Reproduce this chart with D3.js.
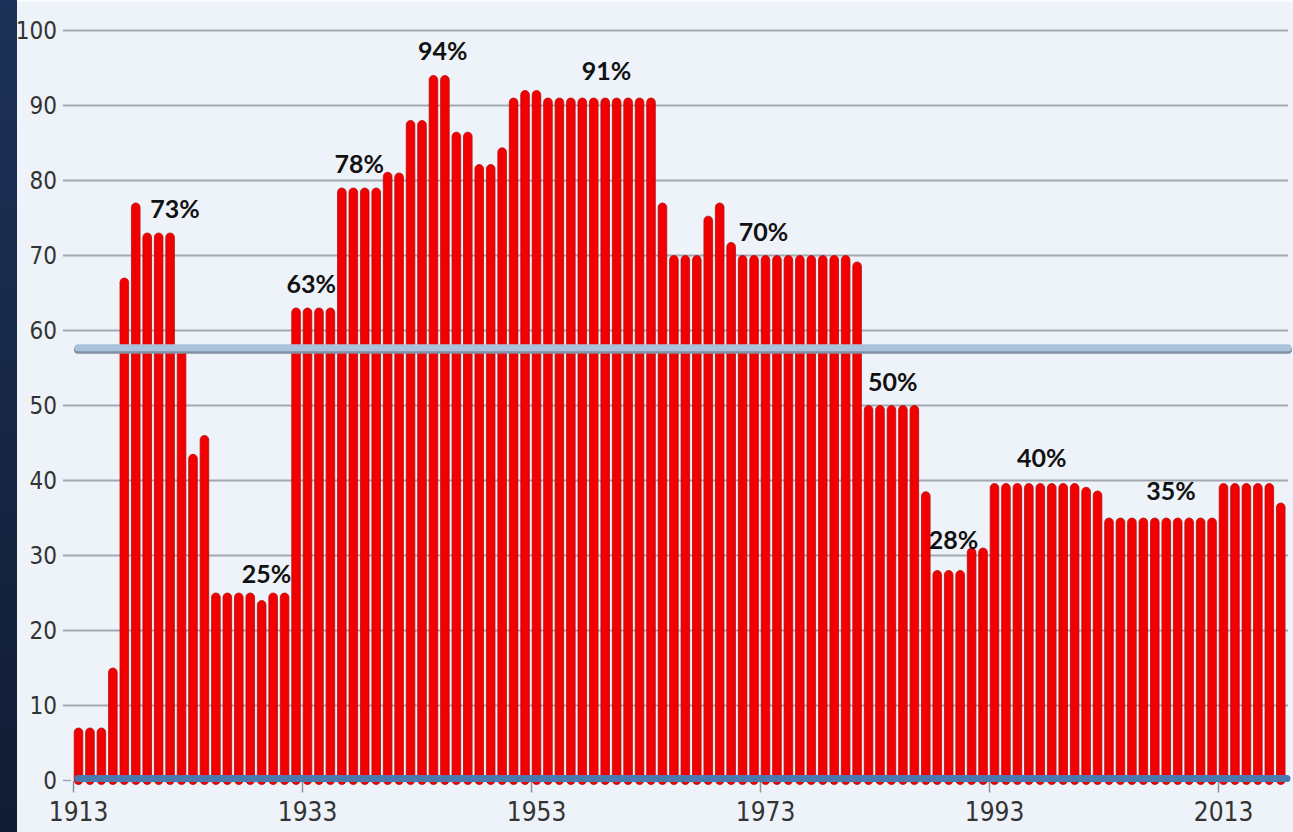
<!DOCTYPE html>
<html>
<head>
<meta charset="utf-8">
<script src="https://cdn.jsdelivr.net/npm/d3@7"></script>
<style>
  html, body { margin: 0; padding: 0; background: #15223d; }
  svg { display: block; }
</style>
</head>
<body>
<div id="chart"></div>
<script>
// top marginal income tax rate, one value per year 1913..2018
const years = d3.range(1913, 2019)
const rates = [
  7, 7, 7, 15, 67, 77, 73, 73, 73, 58, 43.5, 46,
  25, 25, 25, 25, 24, 25, 25,
  63, 63, 63, 63,
  79, 79, 79, 79, 81.1, 81, 88, 88, 94, 94, 86.45, 86.45, 82.13, 82.13, 84.36, 91, 92, 92,
  91, 91, 91, 91, 91, 91, 91, 91, 91, 91,
  77, 70, 70, 70, 75.25, 77, 71.75,
  70, 70, 70, 70, 70, 70, 70, 70, 70, 70, 69.13,
  50, 50, 50, 50, 50, 38.5, 28, 28, 28, 31, 31,
  39.6, 39.6, 39.6, 39.6, 39.6, 39.6, 39.6, 39.6, 39.1, 38.6,
  35, 35, 35, 35, 35, 35, 35, 35, 35, 35,
  39.6, 39.6, 39.6, 39.6, 39.6, 37
]
const yTicks = [0, 10, 20, 30, 40, 50, 60, 70, 80, 90, 100]
const xTicks = [1913, 1933, 1953, 1973, 1993, 2013]
const averageRate = 57.7

// callouts: where the text sits, in year / percent units
const noteYears = [1921.9, 1929.9, 1933.8, 1938.0, 1945.3, 1959.6, 1973.3, 1984.6, 1989.9, 1997.6, 2008.9]
const noteLevels = [75.0, 26.3, 65.0, 81.0, 96.1, 93.4, 71.9, 52.0, 30.9, 41.8, 37.4]
const noteTexts = ['73%', '25%', '63%', '78%', '94%', '91%', '70%', '50%', '28%', '40%', '35%']

const width = 1293
const height = 832

const x = d3.scaleLinear().domain([1913, 2013]).range([73, 1218])
const y = d3.scaleLinear().domain([0, 100]).range([780.5, 30.5])

const svg = d3.select('#chart').append('svg')
  .attr('width', width)
  .attr('height', height)

const defs = svg.append('defs')
const side = defs.append('linearGradient').attr('id', 'side')
  .attr('x1', 0).attr('y1', 0).attr('x2', 0).attr('y2', 1)
side.append('stop').attr('offset', '0%').attr('stop-color', '#1d3158')
side.append('stop').attr('offset', '100%').attr('stop-color', '#111c33')

svg.append('rect').attr('width', 17).attr('height', height).attr('fill', 'url(#side)')
svg.append('rect').attr('x', 17).attr('width', width - 17).attr('height', height).attr('fill', '#eef3fa')
svg.append('rect').attr('x', 17).attr('width', width - 17).attr('height', 2).attr('fill', '#f8fbff')

// grid
svg.append('g')
  .selectAll('line')
  .data(yTicks.filter(d => d > 0))
  .join('line')
  .attr('x1', 63).attr('x2', 1288)
  .attr('y1', d => y(d)).attr('y2', d => y(d))
  .attr('stroke', '#a3a8b0')
  .attr('stroke-width', 2)

// y axis labels
const labelFont = '"Liberation Sans Narrow", "DejaVu Sans Condensed", sans-serif'
const yAxis = svg.append('g')
  .attr('transform', 'translate(64,0)')
  .call(d3.axisLeft(y).tickValues(yTicks).tickSize(0).tickPadding(7))
yAxis.select('.domain').remove()
yAxis.selectAll('text')
  .attr('font-family', labelFont)
  .attr('font-size', 24)
  .attr('fill', '#333')
svg.append('line')
  .attr('x1', 63).attr('x2', 71).attr('y1', y(0)).attr('y2', y(0))
  .attr('stroke', '#a3a8b0').attr('stroke-width', 1.5)

// bars
svg.append('g')
  .selectAll('rect')
  .data(years)
  .join('rect')
  .attr('x', d => x(d) + 1.2)
  .attr('y', (d, i) => y(rates[i]))
  .attr('width', 8.6)
  .attr('height', (d, i) => y(0) - y(rates[i]) + 4)
  .attr('rx', 4.3)
  .attr('fill', '#f20000')
  .attr('stroke', '#b50d0d')
  .attr('stroke-width', 0.8)

// average line
svg.append('line')
  .attr('x1', x(1913) + 5).attr('x2', 1288)
  .attr('y1', y(averageRate) + 2).attr('y2', y(averageRate) + 2)
  .attr('stroke', '#8290a4').attr('stroke-width', 8).attr('stroke-linecap', 'round')
svg.append('line')
  .attr('x1', x(1913) + 5).attr('x2', 1288)
  .attr('y1', y(averageRate)).attr('y2', y(averageRate))
  .attr('stroke', '#abc2dc').attr('stroke-width', 7).attr('stroke-linecap', 'round')

// x axis
const xAxis = svg.append('g')
  .attr('transform', 'translate(0,' + (y(0) + 1) + ')')
  .call(d3.axisBottom(x).tickValues(xTicks).tickFormat(d3.format('d')).tickSize(11).tickPadding(10))
xAxis.select('.domain').remove()
xAxis.selectAll('.tick line').attr('stroke', '#8d929a').attr('stroke-width', 1.5)
xAxis.selectAll('text')
  .attr('dx', 5)
  .attr('font-family', labelFont)
  .attr('font-size', 26)
  .attr('fill', '#333')

svg.append('line')
  .attr('x1', x(1913) + 5).attr('x2', 1287)
  .attr('y1', y(0) - 2).attr('y2', y(0) - 2)
  .attr('stroke', '#4b78ad').attr('stroke-width', 7).attr('stroke-linecap', 'round')

// callouts
svg.append('g')
  .selectAll('text')
  .data(noteTexts)
  .join('text')
  .attr('x', (d, i) => x(noteYears[i]))
  .attr('y', (d, i) => y(noteLevels[i]))
  .attr('text-anchor', 'middle')
  .attr('font-family', 'Lato, "Open Sans", sans-serif')
  .attr('font-weight', 'bold')
  .attr('font-size', 25)
  .attr('fill', '#111')
  .text(d => d)
</script>
</body>
</html>
